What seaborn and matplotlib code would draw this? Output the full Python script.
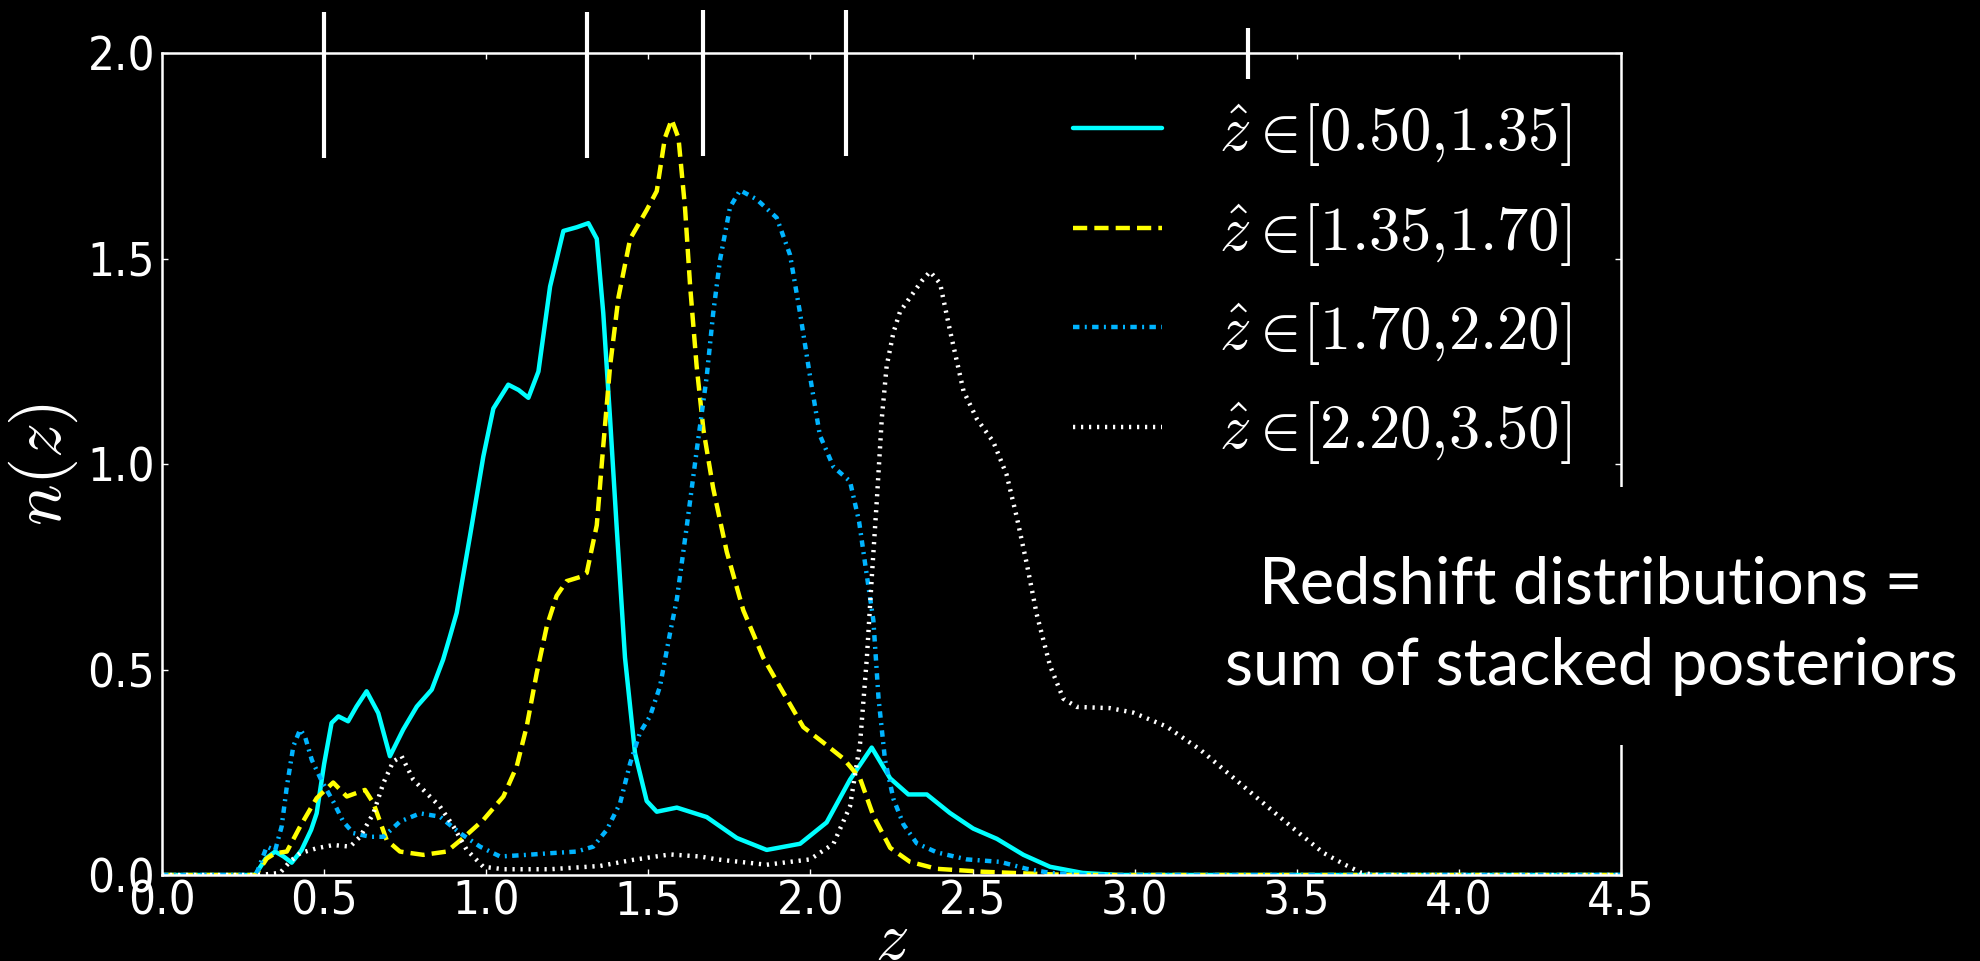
import numpy as np
import matplotlib
matplotlib.use("Agg")
import matplotlib.pyplot as plt
from matplotlib.patches import Rectangle
import seaborn as sns

# ---------------- data ----------------
z_bin1 = [0.0, 0.287, 0.32, 0.349, 0.375, 0.40, 0.43, 0.46, 0.477, 0.50, 0.523, 0.544, 0.574, 0.60,
          0.631, 0.667, 0.703, 0.744, 0.786, 0.832, 0.867, 0.888, 0.909, 0.95, 0.991, 1.022, 1.068,
          1.10, 1.13, 1.161, 1.197, 1.238, 1.279, 1.315, 1.341, 1.361, 1.382, 1.402, 1.428, 1.459,
          1.495, 1.526, 1.588, 1.68, 1.773, 1.865, 1.968, 2.05, 2.122, 2.189, 2.246, 2.302, 2.359,
          2.43, 2.502, 2.575, 2.657, 2.739, 2.84, 2.95, 4.5]
n_bin1 = [0.0, 0.0, 0.04, 0.057, 0.045, 0.03, 0.06, 0.11, 0.15, 0.27, 0.37, 0.386, 0.374, 0.41,
          0.447, 0.394, 0.289, 0.354, 0.41, 0.451, 0.524, 0.58, 0.638, 0.825, 1.018, 1.135, 1.193,
          1.18, 1.161, 1.225, 1.432, 1.567, 1.576, 1.586, 1.548, 1.367, 1.11, 0.851, 0.529, 0.296,
          0.18, 0.154, 0.164, 0.141, 0.09, 0.061, 0.076, 0.128, 0.232, 0.31, 0.235, 0.196, 0.196,
          0.151, 0.113, 0.088, 0.049, 0.02, 0.005, 0.0, 0.0]

z_bin2 = [0.0, 0.29, 0.323, 0.349, 0.385, 0.426, 0.477, 0.528, 0.57, 0.626, 0.652, 0.693, 0.734,
          0.806, 0.878, 0.929, 0.991, 1.053, 1.094, 1.125, 1.156, 1.187, 1.217, 1.248, 1.289, 1.31,
          1.341, 1.361, 1.382, 1.408, 1.444, 1.495, 1.526, 1.551, 1.572, 1.593, 1.613, 1.629, 1.649,
          1.67, 1.70, 1.742, 1.793, 1.855, 1.916, 1.978, 2.04, 2.102, 2.153, 2.194, 2.246, 2.307,
          2.39, 2.53, 2.69, 2.8, 4.5]
n_bin2 = [0.0, 0.0, 0.04, 0.053, 0.057, 0.118, 0.187, 0.225, 0.191, 0.207, 0.175, 0.085, 0.057,
          0.049, 0.057, 0.09, 0.134, 0.191, 0.264, 0.362, 0.492, 0.606, 0.679, 0.715, 0.725, 0.735,
          0.851, 1.044, 1.238, 1.406, 1.548, 1.618, 1.664, 1.793, 1.838, 1.793, 1.625, 1.432, 1.238,
          1.083, 0.941, 0.786, 0.644, 0.528, 0.444, 0.36, 0.322, 0.283, 0.235, 0.144, 0.066, 0.032,
          0.015, 0.008, 0.003, 0.0, 0.0]

z_bin3 = [0.0, 0.29, 0.323, 0.349, 0.369, 0.385, 0.405, 0.426, 0.441, 0.462, 0.493, 0.528, 0.559,
          0.59, 0.642, 0.683, 0.734, 0.796, 0.857, 0.919, 0.981, 1.043, 1.125, 1.197, 1.279, 1.33,
          1.372, 1.413, 1.444, 1.474, 1.505, 1.536, 1.567, 1.588, 1.619, 1.649, 1.68, 1.70, 1.721,
          1.752, 1.783, 1.834, 1.896, 1.937, 1.968, 1.999, 2.029, 2.071, 2.122, 2.15, 2.17, 2.194,
          2.21, 2.23, 2.256, 2.287, 2.328, 2.39, 2.482, 2.585, 2.667, 2.74, 2.85, 4.5]
n_bin3 = [0.0, 0.0, 0.069, 0.06, 0.118, 0.215, 0.313, 0.354, 0.337, 0.28, 0.228, 0.179, 0.13,
          0.102, 0.093, 0.093, 0.13, 0.15, 0.142, 0.102, 0.069, 0.045, 0.049, 0.053, 0.057, 0.069,
          0.11, 0.175, 0.272, 0.346, 0.386, 0.459, 0.589, 0.671, 0.851, 1.032, 1.212, 1.367, 1.496,
          1.625, 1.666, 1.644, 1.599, 1.509, 1.367, 1.212, 1.07, 0.993, 0.958, 0.86, 0.75, 0.62,
          0.43, 0.28, 0.185, 0.123, 0.077, 0.055, 0.038, 0.032, 0.015, 0.005, 0.0, 0.0]

z_bin4 = [0.0, 0.30, 0.364, 0.395, 0.426, 0.477, 0.528, 0.58, 0.611, 0.652, 0.683, 0.713, 0.739,
          0.775, 0.816, 0.857, 0.899, 0.94, 0.991, 1.053, 1.197, 1.351, 1.454, 1.567, 1.66, 1.711,
          1.865, 1.999, 2.071, 2.122, 2.153, 2.174, 2.189, 2.205, 2.22, 2.235, 2.256, 2.276, 2.307,
          2.343, 2.369, 2.40, 2.43, 2.472, 2.513, 2.564, 2.605, 2.636, 2.667, 2.698, 2.739, 2.78,
          2.821, 2.924, 2.996, 3.099, 3.202, 3.304, 3.407, 3.51, 3.582, 3.644, 3.70, 3.75, 4.5]
n_bin4 = [0.0, 0.0, 0.005, 0.033, 0.053, 0.065, 0.073, 0.069, 0.093, 0.15, 0.224, 0.276, 0.289,
          0.232, 0.199, 0.167, 0.118, 0.061, 0.02, 0.014, 0.014, 0.022, 0.037, 0.05, 0.045, 0.038,
          0.025, 0.038, 0.076, 0.167, 0.32, 0.528, 0.722, 0.915, 1.11, 1.238, 1.32, 1.37, 1.405,
          1.445, 1.468, 1.439, 1.326, 1.178, 1.11, 1.054, 0.974, 0.872, 0.758, 0.634, 0.509, 0.429,
          0.409, 0.406, 0.395, 0.361, 0.305, 0.237, 0.168, 0.1, 0.054, 0.027, 0.005, 0.0, 0.0]

bin_labels = [r"$\hat{z}\in\![0.50{,}1.35]$", r"$\hat{z}\in\![1.35{,}1.70]$",
              r"$\hat{z}\in\![1.70{,}2.20]$", r"$\hat{z}\in\![2.20{,}3.50]$"]

# marks drawn above the top spine
mark_z = [0.50, 1.31, 1.67, 2.11, 3.35]
mark_lo = [1.745, 1.745, 1.75, 1.75, 1.937]
mark_hi = [2.10, 2.10, 2.105, 2.105, 2.06]

x_ticks = [0.0, 0.5, 1.0, 1.5, 2.0, 2.5, 3.0, 3.5, 4.0, 4.5]
y_ticks = [0.0, 0.5, 1.0, 1.5, 2.0]

note = "Redshift distributions =\nsum of stacked posteriors"

# ---------------- style ----------------
sns.set_theme(style="ticks")
plt.rcParams.update({
    "figure.facecolor": "black",
    "axes.facecolor": "black",
    "savefig.facecolor": "black",
    "axes.edgecolor": "white",
    "axes.linewidth": 1.8,
    "axes.labelcolor": "white",
    "text.color": "white",
    "xtick.color": "white",
    "ytick.color": "white",
    "xtick.direction": "in",
    "ytick.direction": "in",
    "xtick.top": True,
    "ytick.right": True,
    "xtick.major.size": 4.5,
    "ytick.major.size": 4.5,
    "xtick.major.width": 1.0,
    "ytick.major.width": 1.0,
    "mathtext.fontset": "cm",
    "lines.solid_joinstyle": "round",
    "lines.dash_joinstyle": "round",
})
plt.rcParams["font.family"] = ["DejaVu Sans"]
plt.rcParams["font.stretch"] = "condensed"

W, H = 1981, 961
fig = plt.figure(figsize=(W / 100, H / 100), dpi=100)
ax_left, ax_right, ax_top, ax_bottom = 162, 1621, 53, 875
ax = fig.add_axes([ax_left / W, 1 - ax_bottom / H, (ax_right - ax_left) / W, (ax_bottom - ax_top) / H])

series = [
    (z_bin1, n_bin1, "#00ffff", None),
    (z_bin2, n_bin2, "#ffff00", (3.2, 1.6)),
    (z_bin3, n_bin3, "#00b4ff", (1.45, 1.2, 0.45, 1.2)),
    (z_bin4, n_bin4, "#ffffff", (0.5, 1.3)),
]
for (zz, nn, col, dash), lab in zip(series, bin_labels):
    sns.lineplot(x=zz, y=nn, ax=ax, color=col, linewidth=3.2, label=lab,
                 sort=False, estimator=None)
    line = ax.get_lines()[-1]
    if dash is not None:
        line.set_dashes(dash)
    line.set_dash_capstyle("butt")

ax.vlines(mark_z, mark_lo, mark_hi, colors="white", linewidth=3.0, clip_on=False, zorder=5)

ax.set_xlim(0, 4.5)
ax.set_ylim(0, 2.0)
ax.set_xticks(x_ticks)
ax.set_xticklabels([f"{t:.1f}" for t in x_ticks])
ax.set_yticks(y_ticks)
ax.set_yticklabels([f"{t:.1f}" for t in y_ticks])
ax.tick_params(axis="both", labelsize=34)
ax.tick_params(axis="x", pad=3)
ax.tick_params(axis="y", pad=5)

ax.set_xlabel(r"$z$", fontsize=48)
ax.set_ylabel(r"$n(z)$", fontsize=50)
ax.xaxis.set_label_coords(0.5, -0.039)
ax.yaxis.set_label_coords(-0.056, 0.5)

leg = ax.legend(loc="upper left", bbox_to_anchor=(1073 / W, 1 - 101 / H),
                bbox_transform=fig.transFigure, frameon=False, fontsize=45,
                handlelength=1.42, handletextpad=0.91, labelspacing=0.52,
                borderpad=0, borderaxespad=0)
for t in leg.get_texts():
    t.set_color("white")

# black panel behind the note (it hides part of the right spine)
fig.add_artist(Rectangle((1218 / W, 1 - 745 / H), (1975 - 1218) / W, (745 - 487) / H,
                         transform=fig.transFigure, facecolor="black", edgecolor="none",
                         zorder=9))
fig.text(1591 / W, 1 - 626 / H, note, ha="center", va="center", multialignment="center",
         fontsize=46.8, family=["Lato", "DejaVu Sans"], fontweight="normal", fontstretch="normal",
         color="white", linespacing=1.47, zorder=10)

fig.savefig("out.png", dpi=100, facecolor="black")
